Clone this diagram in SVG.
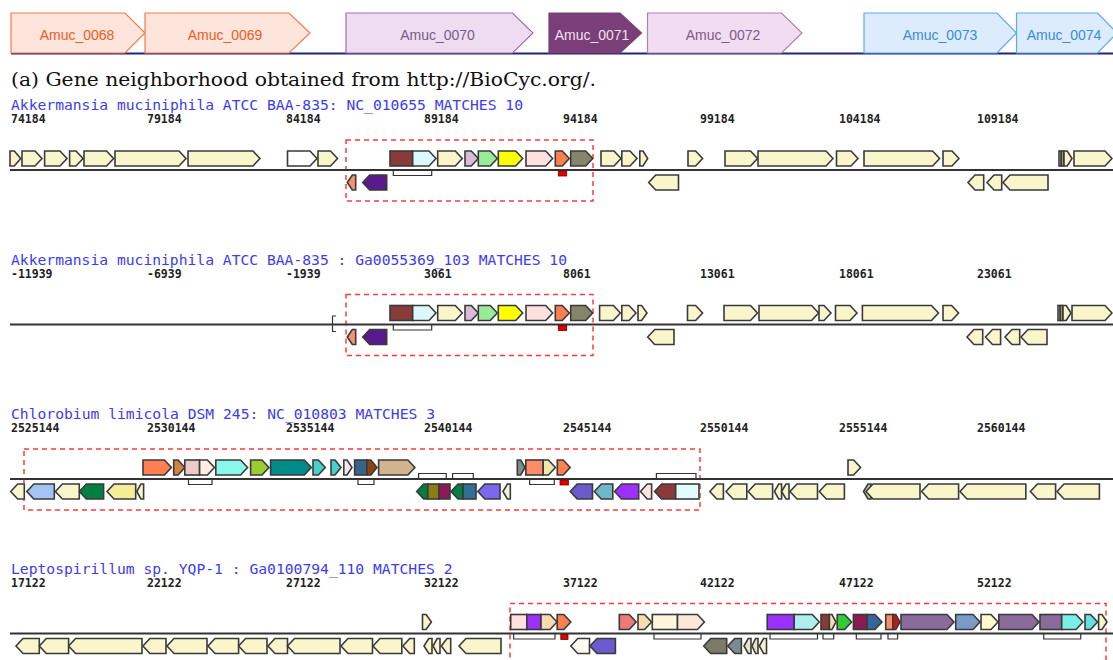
<svg xmlns="http://www.w3.org/2000/svg" width="1113" height="660" viewBox="0 0 1113 660">
<style>
.tb{stroke-width:1.2}
.tl{font-family:"Liberation Sans",Arial,sans-serif;font-size:14px;text-anchor:middle}
.cap{font-family:"DejaVu Serif","Liberation Serif",serif;font-size:18px;fill:#111}
.t{font-family:"DejaVu Sans Mono","Liberation Mono",monospace;font-size:14.6px;fill:#3c3cf0}
.n{font-family:"DejaVu Sans Mono","Liberation Mono",monospace;font-size:11.5px;font-weight:bold;fill:#222}
.g polygon,.g rect{stroke:#3a3a3a;stroke-width:1.6}
.y{fill:#faf6cc}
.ax{stroke:#333;stroke-width:2}
.box{fill:none;stroke:#ff3a3a;stroke-width:1.5;stroke-dasharray:5 4}
.br{fill:none;stroke:#333;stroke-width:1.2}
.rm{fill:#e00000;stroke:#700;stroke-width:0.8}
</style>
<rect width="1113" height="660" fill="#fff"/>
<g id="topbar">
<line x1="11" y1="53.5" x2="1113" y2="53.5" stroke="#23237a" stroke-width="2"/>
<g id="amuc0068"><polygon class="tb" points="11,13 125,13 145,33 125,53 11,53" fill="#fde5dc" stroke="#f47a50"/><text class="tl" x="77" y="40" fill="#f05a28">Amuc_0068</text></g>
<g id="amuc0069"><polygon class="tb" points="145,13 289,13 310,33 289,53 145,53" fill="#fde5dc" stroke="#f47a50"/><text class="tl" x="225" y="40" fill="#f05a28">Amuc_0069</text></g>
<g id="amuc0070"><polygon class="tb" points="346,13 512.5,13 533,33 512.5,53 346,53" fill="#eedcf0" stroke="#a070b0"/><text class="tl" x="437.5" y="40" fill="#7a5a8a">Amuc_0070</text></g>
<g id="amuc0071"><polygon class="tb" points="549,13 620,13 641.5,33 620,53 549,53" fill="#7a3e78" stroke="#7a3e78"/><text class="tl" x="592" y="40" fill="#f0e0f0">Amuc_0071</text></g>
<g id="amuc0072"><polygon class="tb" points="647.5,13 781.5,13 802,33 781.5,53 647.5,53" fill="#f2dcf2" stroke="#b080b0"/><text class="tl" x="723" y="40" fill="#7a5a8a">Amuc_0072</text></g>
<g id="amuc0073"><polygon class="tb" points="864,13 997,13 1016.5,33 997,53 864,53" fill="#dcecfc" stroke="#5aaaf0"/><text class="tl" x="940" y="40" fill="#3a8ae0">Amuc_0073</text></g>
<g id="amuc0074"><polygon class="tb" points="1016.5,13 1097.5,13 1117,33 1097.5,53 1016.5,53" fill="#dcecfc" stroke="#5aaaf0"/><text class="tl" x="1064" y="40" fill="#3a8ae0">Amuc_0074</text></g>
</g>
<text class="cap" x="11" y="86" textLength="585" lengthAdjust="spacingAndGlyphs">(a) Gene neighborhood obtained from http://BioCyc.org/.</text>

<g id="track1">
<text class="t" x="11" y="110" textLength="512" lengthAdjust="spacingAndGlyphs">Akkermansia muciniphila ATCC BAA-835: NC_010655 MATCHES 10</text>
<g class="n"><text x="11" y="123">74184</text><text x="147" y="123">79184</text><text x="286" y="123">84184</text><text x="424" y="123">89184</text><text x="563" y="123">94184</text><text x="700" y="123">99184</text><text x="839" y="123">104184</text><text x="977" y="123">109184</text></g>
<rect class="box" x="346" y="140" width="247" height="61"/>
<line class="ax" x1="10" y1="170" x2="1113" y2="170"/>
<g class="g">
<polygon class="y" points="10,151 14.3,151 20.7,158.5 14.3,166 10,166"/>
<polygon class="y" points="22,151 35,151 42,158.5 35,166 22,166"/>
<polygon class="y" points="44.6,151 60,151 67,158.5 60,166 44.6,166"/>
<polygon class="y" points="69.6,151 76,151 83,158.5 76,166 69.6,166"/>
<polygon class="y" points="84,151 106.6,151 113.6,158.5 106.6,166 84,166"/>
<polygon class="y" points="115,151 179,151 186,158.5 179,166 115,166"/>
<polygon class="y" points="188,151 253,151 260,158.5 253,166 188,166"/>
<polygon fill="#fff" points="287.5,151 310,151 317,158.5 310,166 287.5,166"/>
<polygon class="y" points="318,151 330.5,151 337.5,158.5 330.5,166 318,166"/>
<rect x="390" y="151" width="22.7" height="15" fill="#8b3a3a"/>
<polygon fill="#dcf8fa" points="412.7,151 429,151 436,158.5 429,166 412.7,166"/>
<polygon class="y" points="437.7,151 455.3,151 462.3,158.5 455.3,166 437.7,166"/>
<polygon fill="#d8bcd8" points="465,151 471.3,151 478.3,158.5 471.3,166 465,166"/>
<polygon fill="#98ec98" points="478.3,151 490.3,151 497.3,158.5 490.3,166 478.3,166"/>
<polygon fill="#ffff00" points="498.3,151 515.7,151 522.7,158.5 515.7,166 498.3,166"/>
<polygon fill="#ffe2e0" points="526,151 545.7,151 552.7,158.5 545.7,166 526,166"/>
<polygon fill="#ff7f50" points="555.3,151 562.3,151 569.3,158.5 562.3,166 555.3,166"/>
<polygon fill="#85856b" points="570.7,151 585.7,151 592.7,158.5 585.7,166 570.7,166"/>
<polygon class="y" points="601,151 614,151 621,158.5 614,166 601,166"/>
<polygon class="y" points="621.8,151 630,151 637,158.5 630,166 621.8,166"/>
<polygon class="y" points="639.8,151 643,151 647.7,158.5 643,166 639.8,166"/>
<polygon class="y" points="688,151 695.6,151 702.6,158.5 695.6,166 688,166"/>
<polygon class="y" points="725,151 750.5,151 757.5,158.5 750.5,166 725,166"/>
<polygon class="y" points="758,151 826,151 833,158.5 826,166 758,166"/>
<polygon class="y" points="836.5,151 851,151 858,158.5 851,166 836.5,166"/>
<polygon class="y" points="864,151 932.6,151 939.6,158.5 932.6,166 864,166"/>
<polygon class="y" points="943,151 952,151 959,158.5 952,166 943,166"/>
<rect class="y" x="1059" y="151" width="2" height="15"/>
<rect class="y" x="1061.5" y="151" width="2" height="15"/>
<polygon class="y" points="1064,151 1067.2,151 1072,158.5 1067.2,166 1064,166"/>
<polygon class="y" points="1074,151 1105,151 1112,158.5 1105,166 1074,166"/>
<polygon fill="#f59070" points="347.3,182.5 352.3,175 355.7,175 355.7,190 352.3,190"/>
<polygon fill="#5b1a8b" points="362.7,182.5 369.7,175 386.7,175 386.7,190 369.7,190"/>
<polygon class="y" points="648.7,182.5 655.7,175 678.5,175 678.5,190 655.7,190"/>
<polygon class="y" points="968,182.5 975,175 983.7,175 983.7,190 975,190"/>
<polygon class="y" points="987,182.5 994,175 1001.7,175 1001.7,190 994,190"/>
<polygon class="y" points="1003,182.5 1010,175 1048,175 1048,190 1010,190"/>
</g>
<path class="br" d="M393.3,170 V175.5 H431.7 V170"/>
<rect class="rm" x="558.3" y="171" width="8.4" height="5"/>
</g>

<g id="track2" transform="translate(0,154.5)">
<text class="t" x="11" y="110" textLength="556" lengthAdjust="spacingAndGlyphs">Akkermansia muciniphila ATCC BAA-835 : Ga0055369_103 MATCHES 10</text>
<g class="n"><text x="11" y="123">-11939</text><text x="147" y="123">-6939</text><text x="286" y="123">-1939</text><text x="424" y="123">3061</text><text x="563" y="123">8061</text><text x="700" y="123">13061</text><text x="839" y="123">18061</text><text x="977" y="123">23061</text></g>
<rect class="box" x="346" y="140" width="247" height="61"/>
<line class="ax" x1="10" y1="170" x2="1113" y2="170"/>
<path class="br" d="M336,161.5 H332.5 V177 H336" stroke-width="1.5"/>
<g class="g">
<rect x="390" y="151" width="22.7" height="15" fill="#8b3a3a"/>
<polygon fill="#dcf8fa" points="412.7,151 429,151 436,158.5 429,166 412.7,166"/>
<polygon class="y" points="437.7,151 455.3,151 462.3,158.5 455.3,166 437.7,166"/>
<polygon fill="#d8bcd8" points="465,151 471.3,151 478.3,158.5 471.3,166 465,166"/>
<polygon fill="#98ec98" points="478.3,151 490.3,151 497.3,158.5 490.3,166 478.3,166"/>
<polygon fill="#ffff00" points="498.3,151 515.7,151 522.7,158.5 515.7,166 498.3,166"/>
<polygon fill="#ffe2e0" points="526,151 545.7,151 552.7,158.5 545.7,166 526,166"/>
<polygon fill="#ff7f50" points="555.3,151 562.3,151 569.3,158.5 562.3,166 555.3,166"/>
<polygon fill="#85856b" points="570.7,151 585.7,151 592.7,158.5 585.7,166 570.7,166"/>
<polygon class="y" points="599.6,151 613.4,151 620.4,158.5 613.4,166 599.6,166"/>
<polygon class="y" points="621.8,151 629,151 636,158.5 629,166 621.8,166"/>
<polygon class="y" points="638,151 641.6,151 647,158.5 641.6,166 638,166"/>
<polygon class="y" points="687.5,151 695.6,151 702.6,158.5 695.6,166 687.5,166"/>
<polygon class="y" points="724,151 750.5,151 757.5,158.5 750.5,166 724,166"/>
<polygon class="y" points="759,151 811.6,151 818.6,158.5 811.6,166 759,166"/>
<polygon class="y" points="819,151 824,151 831,158.5 824,166 819,166"/>
<polygon class="y" points="835.5,151 850,151 857,158.5 850,166 835.5,166"/>
<polygon class="y" points="862.4,151 931.5,151 938.5,158.5 931.5,166 862.4,166"/>
<polygon class="y" points="943,151 951.6,151 958.6,158.5 951.6,166 943,166"/>
<rect class="y" x="1058" y="151" width="2" height="15"/>
<rect class="y" x="1060.5" y="151" width="2" height="15"/>
<polygon class="y" points="1063,151 1066.2,151 1071,158.5 1066.2,166 1063,166"/>
<polygon class="y" points="1072,151 1105,151 1112,158.5 1105,166 1072,166"/>
<polygon fill="#f59070" points="347.3,182.5 352.3,175 355.7,175 355.7,190 352.3,190"/>
<polygon fill="#5b1a8b" points="362.7,182.5 369.7,175 386.7,175 386.7,190 369.7,190"/>
<polygon class="y" points="647.7,182.5 654.7,175 674,175 674,190 654.7,190"/>
<polygon class="y" points="967,182.5 974,175 982.7,175 982.7,190 974,190"/>
<polygon class="y" points="985.5,182.5 992.5,175 1000.6,175 1000.6,190 992.5,190"/>
<polygon class="y" points="1005,182.5 1012,175 1019.7,175 1019.7,190 1012,190"/>
<polygon class="y" points="1021,182.5 1028,175 1047,175 1047,190 1028,190"/>
</g>
<path class="br" d="M393.3,170 V175.5 H431.7 V170"/>
<rect class="rm" x="558.3" y="171" width="8.4" height="5"/>
</g>

<g id="track3" transform="translate(0,309)">
<text class="t" x="11" y="110" textLength="424" lengthAdjust="spacingAndGlyphs">Chlorobium limicola DSM 245: NC_010803 MATCHES 3</text>
<g class="n"><text x="11" y="123">2525144</text><text x="147" y="123">2530144</text><text x="286" y="123">2535144</text><text x="424" y="123">2540144</text><text x="563" y="123">2545144</text><text x="700" y="123">2550144</text><text x="839" y="123">2555144</text><text x="977" y="123">2560144</text></g>
<rect class="box" x="24" y="140" width="676" height="61"/>
<line class="ax" x1="10" y1="170" x2="1113" y2="170"/>
<g class="g">
<polygon fill="#ff7f50" points="143,151 164.4,151 171.4,158.5 164.4,166 143,166"/>
<polygon fill="#cd853f" points="173.7,151 178.1,151 184.8,158.5 178.1,166 173.7,166"/>
<rect x="184.8" y="151" width="14.8" height="15" fill="#eccaca"/>
<polygon fill="#fdf0e2" points="199.6,151 207.4,151 214.4,158.5 207.4,166 199.6,166"/>
<polygon fill="#88f8ec" points="215.8,151 240.6,151 247.6,158.5 240.6,166 215.8,166"/>
<polygon fill="#9acd32" points="250.6,151 262,151 269,158.5 262,166 250.6,166"/>
<polygon fill="#008b8b" points="270.6,151 304.3,151 311.3,158.5 304.3,166 270.6,166"/>
<polygon fill="#48d1cc" points="313,151 318.3,151 325.3,158.5 318.3,166 313,166"/>
<polygon fill="#48d1cc" points="331,151 335,151 341,158.5 335,166 331,166"/>
<polygon fill="#f4e4f0" points="343.8,151 347.1,151 352,158.5 347.1,166 343.8,166"/>
<rect x="354.6" y="151" width="12.2" height="15" fill="#36648b"/>
<polygon fill="#8b4513" points="366.8,151 370.9,151 377,158.5 370.9,166 366.8,166"/>
<polygon fill="#d2b48c" points="378.6,151 407.9,151 414.9,158.5 407.9,166 378.6,166"/>
<polygon fill="#7f9090" points="517.3,151 520.7,151 525,158.5 520.7,166 517.3,166"/>
<rect x="525.8" y="151" width="17.4" height="15" fill="#ff8c69"/>
<polygon fill="#eee8aa" points="543.2,151 548.4,151 555.4,158.5 548.4,166 543.2,166"/>
<polygon fill="#ff7f50" points="557.3,151 563.2,151 570.2,158.5 563.2,166 557.3,166"/>
<polygon class="y" points="848,151 853.6,151 860.6,158.5 853.6,166 848,166"/>
<polygon class="y" points="10.7,182.5 17.7,175 24.3,175 24.3,190 17.7,190"/>
<polygon fill="#a4c4f4" points="26.8,182.5 33.8,175 54.3,175 54.3,190 33.8,190"/>
<polygon class="y" points="55.4,182.5 62.4,175 79.3,175 79.3,190 62.4,190"/>
<polygon fill="#008040" points="79.3,182.5 86.3,175 103.6,175 103.6,190 86.3,190"/>
<polygon fill="#f5ee96" points="107,182.5 114,175 135.7,175 135.7,190 114,190"/>
<polygon class="y" points="136.8,182.5 140.9,175 143.6,175 143.6,190 140.9,190"/>
<polygon fill="#008040" points="416.7,182.5 423.7,175 427.8,175 427.8,190 423.7,190"/>
<rect x="427.8" y="175" width="11.1" height="15" fill="#8b7d10"/>
<rect x="438.9" y="175" width="11.1" height="15" fill="#8b1a55"/>
<polygon fill="#008040" points="451,182.5 458,175 463,175 463,190 458,190"/>
<rect x="463" y="175" width="13" height="15" fill="#336e99"/>
<polygon fill="#7b68ee" points="477.8,182.5 484.8,175 500,175 500,190 484.8,190"/>
<polygon fill="#f5f5dc" points="503,182.5 507.4,175 510.3,175 510.3,190 507.4,190"/>
<polygon fill="#6a5acd" points="570.2,182.5 577.2,175 592.5,175 592.5,190 577.2,190"/>
<polygon fill="#6fb8c8" points="594.3,182.5 601.3,175 612.8,175 612.8,190 601.3,190"/>
<polygon fill="#9b30ff" points="614.6,182.5 621.6,175 638.7,175 638.7,190 621.6,190"/>
<polygon fill="#ffe4e1" points="640.5,182.5 647.2,175 651.6,175 651.6,190 647.2,190"/>
<polygon fill="#8b3a3a" points="654.6,182.5 661.6,175 675.7,175 675.7,190 661.6,190"/>
<rect x="675.7" y="175" width="23.3" height="15" fill="#e0fcfc"/>
<polygon class="y" points="709.8,182.5 716.8,175 723.4,175 723.4,190 716.8,190"/>
<polygon class="y" points="726,182.5 733,175 746.8,175 746.8,190 733,190"/>
<polygon class="y" points="748.2,182.5 755.2,175 772.6,175 772.6,190 755.2,190"/>
<polygon class="y" points="774.4,182.5 778.7,175 781.6,175 781.6,190 778.7,190"/>
<polygon class="y" points="781.6,182.5 786,175 789,175 789,190 786,190"/>
<polygon class="y" points="790,182.5 797,175 817.5,175 817.5,190 797,190"/>
<polygon class="y" points="819.3,182.5 826.3,175 844.4,175 844.4,190 826.3,190"/>
<polygon fill="#c8c8a8" points="863.5,182.5 868,175 871,175 871,190 868,190"/>
<polygon class="y" points="866,182.5 873,175 920,175 920,190 873,190"/>
<polygon class="y" points="921.6,182.5 928.6,175 958.6,175 958.6,190 928.6,190"/>
<polygon class="y" points="960,182.5 967,175 1025.8,175 1025.8,190 967,190"/>
<polygon class="y" points="1030.4,182.5 1037.4,175 1055.6,175 1055.6,190 1037.4,190"/>
<polygon class="y" points="1057,182.5 1064,175 1099.4,175 1099.4,190 1064,190"/>
</g>
<path class="br" d="M188.5,170 V175.5 H212 V170 M358,170 V175.5 H374 V170 M418.6,170 V164.5 H446.3 V170 M452.6,170 V164.5 H473.3 V170 M529.6,170 V175.5 H554.3 V170 M656.4,170 V164.5 H696 V170"/>
<rect class="rm" x="560" y="171" width="8.4" height="5"/>
</g>

<g id="track4" transform="translate(0,463.5)">
<text class="t" x="11" y="110" textLength="441.5" lengthAdjust="spacingAndGlyphs">Leptospirillum sp. YQP-1 : Ga0100794_110 MATCHES 2</text>
<g class="n"><text x="11" y="123">17122</text><text x="147" y="123">22122</text><text x="286" y="123">27122</text><text x="424" y="123">32122</text><text x="563" y="123">37122</text><text x="700" y="123">42122</text><text x="839" y="123">47122</text><text x="977" y="123">52122</text></g>
<rect class="box" x="510" y="140" width="596" height="61"/>
<line class="ax" x1="10" y1="170" x2="1113" y2="170"/>
<g class="g">
<polygon class="y" points="422.5,151 426.1,151 431.4,158.5 426.1,166 422.5,166"/>
<rect x="510.7" y="151" width="16.1" height="15" fill="#ffe0e0"/>
<rect x="526.8" y="151" width="14.2" height="15" fill="#9b30ff"/>
<polygon fill="#f8dcb0" points="541,151 550,151 557,158.5 550,166 541,166"/>
<polygon fill="#ff7f50" points="557.2,151 563.8,151 570.8,158.5 563.8,166 557.2,166"/>
<polygon fill="#f07878" points="619.3,151 629.2,151 636.2,158.5 629.2,166 619.3,166"/>
<polygon fill="#f8dcb0" points="638,151 644.6,151 651.6,158.5 644.6,166 638,166"/>
<rect x="652.3" y="151" width="25.2" height="15" fill="#fff6dc"/>
<polygon fill="#fde8da" points="677.5,151 697.4,151 704.4,158.5 697.4,166 677.5,166"/>
<rect x="767.2" y="151" width="27" height="15" fill="#9b30ff"/>
<polygon fill="#b0eeee" points="794.2,151 812.3,151 819.3,158.5 812.3,166 794.2,166"/>
<rect x="821" y="151" width="8.4" height="15" fill="#8b3a3a"/>
<polygon fill="#f8dcb0" points="829.4,151 832,151 836,158.5 832,166 829.4,166"/>
<polygon fill="#32cd32" points="837.2,151 844.6,151 851.6,158.5 844.6,166 837.2,166"/>
<rect x="853.4" y="151" width="13.6" height="15" fill="#8b1a50"/>
<polygon fill="#336699" points="867,151 875,151 882,158.5 875,166 867,166"/>
<rect x="885.7" y="151" width="7.3" height="15" fill="#ff8c69"/>
<polygon fill="#c81414" points="893,151 895.8,151 900,158.5 895.8,166 893,166"/>
<polygon fill="#8b6b9b" points="901,151 947,151 954,158.5 947,166 901,166"/>
<polygon fill="#7b9ac8" points="955.7,151 973,151 980,158.5 973,166 955.7,166"/>
<polygon fill="#fffacd" points="981,151 991,151 998,158.5 991,166 981,166"/>
<polygon fill="#8b6b9b" points="998.8,151 1032,151 1039,158.5 1032,166 998.8,166"/>
<rect x="1040" y="151" width="21.7" height="15" fill="#8b6b9b"/>
<polygon fill="#78f0e4" points="1061.7,151 1076,151 1083,158.5 1076,166 1061.7,166"/>
<polygon fill="#66e0e0" points="1085,151 1090.6,151 1097.6,158.5 1090.6,166 1085,166"/>
<polygon class="y" points="1098.6,151 1102,151 1107,158.5 1102,166 1098.6,166"/>
<polygon class="y" points="16,182.5 23,175 39.3,175 39.3,190 23,190"/>
<polygon class="y" points="39.3,182.5 46.3,175 68.6,175 68.6,190 46.3,190"/>
<polygon class="y" points="68.6,182.5 75.6,175 142,175 142,190 75.6,190"/>
<polygon class="y" points="142.9,182.5 149.9,175 166,175 166,190 149.9,190"/>
<polygon class="y" points="167,182.5 174,175 207,175 207,190 174,190"/>
<polygon class="y" points="208,182.5 215,175 238.6,175 238.6,190 215,190"/>
<polygon class="y" points="238.6,182.5 245.6,175 267,175 267,190 245.6,190"/>
<polygon class="y" points="268,182.5 275,175 287.5,175 287.5,190 275,190"/>
<polygon class="y" points="287.5,182.5 294.5,175 340,175 340,190 294.5,190"/>
<polygon class="y" points="341,182.5 348,175 372.5,175 372.5,190 348,190"/>
<polygon class="y" points="373,182.5 380,175 401.8,175 401.8,190 380,190"/>
<polygon class="y" points="402.9,182.5 409.7,175 414.3,175 414.3,190 409.7,190"/>
<polygon class="y" points="424,182.5 428.8,175 432,175 432,190 428.8,190"/>
<polygon class="y" points="433,182.5 437.2,175 440,175 440,190 437.2,190"/>
<polygon class="y" points="441.4,182.5 447,175 450.7,175 450.7,190 447,190"/>
<polygon class="y" points="459,182.5 466,175 501,175 501,190 466,190"/>
<polygon fill="#fffff0" points="570.8,182.5 577.8,175 589.5,175 589.5,190 577.8,190"/>
<polygon fill="#6a5acd" points="590,182.5 597,175 615.4,175 615.4,190 597,190"/>
<polygon fill="#7b7b68" points="703.7,182.5 710.7,175 726.7,175 726.7,190 710.7,190"/>
<polygon fill="#7a8a90" points="727.7,182.5 734.7,175 741.4,175 741.4,190 734.7,190"/>
<polygon fill="#e8e4c4" points="744,182.5 748.2,175 751,175 751,190 748.2,190"/>
<polygon fill="#e8e4c4" points="752,182.5 755.6,175 758,175 758,190 755.6,190"/>
<polygon class="y" points="759.3,182.5 763.6,175 766.5,175 766.5,190 763.6,190"/>
</g>
<path class="br" d="M513.6,170 V175.5 H555 V170 M654,170 V175.5 H701 V170 M770,170 V175.5 H817.5 V170 M823,170 V175.5 H833.7 V170 M856.3,170 V175.5 H881 V170 M888,170 V175.5 H897.6 V170 M1043.7,170 V175.5 H1080.7 V170"/>
<rect class="rm" x="560.8" y="171" width="7.2" height="5"/>
</g>
</svg>
